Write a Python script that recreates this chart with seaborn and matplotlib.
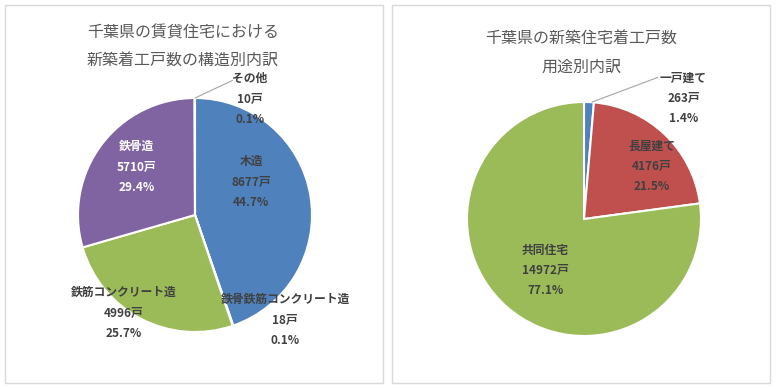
import matplotlib
matplotlib.use("Agg")
import matplotlib.pyplot as plt
from matplotlib.patches import Rectangle
import seaborn as sns

sns.set_theme(style="white")
plt.rcParams['font.family'] = ['Noto Sans CJK JP', 'DejaVu Sans']

# left chart: structure breakdown of rental housing starts
struct_labels = ['木造', '鉄骨鉄筋コンクリート造', '鉄筋コンクリート造', '鉄骨造', 'その他']
struct_counts = [8677, 18, 4996, 5710, 10]
struct_pcts = ['44.7%', '0.1%', '25.7%', '29.4%', '0.1%']

# right chart: breakdown by use
use_labels = ['一戸建て', '長屋建て', '共同住宅']
use_counts = [263, 4176, 14972]
use_pcts = ['1.4%', '21.5%', '77.1%']

W, H = 776, 389
fig = plt.figure(figsize=(W / 100, H / 100), dpi=100)
fig.patch.set_facecolor('white')

# chart frames
for x0, x1 in [(5, 383), (392, 770)]:
    fig.add_artist(Rectangle((x0 / W, 1 - 383 / H), (x1 - x0) / W, 378 / H,
                             transform=fig.transFigure, fill=False,
                             edgecolor='#D9D9D9', linewidth=1))


def make_ax(cx, cy, r):
    return fig.add_axes([(cx - r) / W, (H - cy - r) / H, 2 * r / W, 2 * r / H])


def draw_pie(ax, counts, labels, pcts, colors, label_pos, text_colors):
    ax.pie(counts, colors=colors, startangle=90, counterclock=False,
           wedgeprops=dict(edgecolor='white', linewidth=1.5))
    ax.set_xlim(-1, 1)
    ax.set_ylim(-1, 1)
    ax.set_axis_off()
    for lab, n, p, (x, y), c in zip(labels, counts, pcts, label_pos, text_colors):
        if (x, y) == (None, None):
            continue
        ax.text(x, y, f'{lab}\n{n}戸\n{p}', ha='center', va='center',
                multialignment='center', fontsize=8.5, fontweight='bold',
                color=c, linespacing=1.75, clip_on=False)


pal = sns.color_palette(['#4F81BD', '#C0504D', '#9BBB59', '#8064A2', '#4BACC6'])

ax1 = make_ax(195, 215, 117)
draw_pie(ax1, struct_counts, struct_labels, struct_pcts, pal,
         [(0.48, 0.28), (0.77, -0.90), (-0.61, -0.84), (-0.50, 0.41), (0.47, 0.99)],
         ['#404040', '#404040', '#404040', 'white', '#404040'])
ax1.plot([0.0, 0.32], [1.0, 1.15], color='#A6A6A6', lw=0.8, clip_on=False)

ax2 = make_ax(584, 219, 117)
draw_pie(ax2, use_counts, use_labels, use_pcts, [pal[0], pal[1], pal[2]],
         [(0.85, 1.03), (0.58, 0.45), (-0.33, -0.44)],
         ['#404040', '#404040', '#404040'])
ax2.plot([0.07, 0.63], [1.0, 1.21], color='#A6A6A6', lw=0.8, clip_on=False)

title_kw = dict(ha='center', va='center', fontsize=11.5, color='#595959')
fig.text(183 / W, 1 - 33 / H, '千葉県の賃貸住宅における', **title_kw)
fig.text(183 / W, 1 - 61 / H, '新築着工戸数の構造別内訳', **title_kw)
fig.text(581 / W, 1 - 39 / H, '千葉県の新築住宅着工戸数', **title_kw)
fig.text(581 / W, 1 - 67 / H, '用途別内訳', **title_kw)

fig.savefig('out.png', dpi=100)
